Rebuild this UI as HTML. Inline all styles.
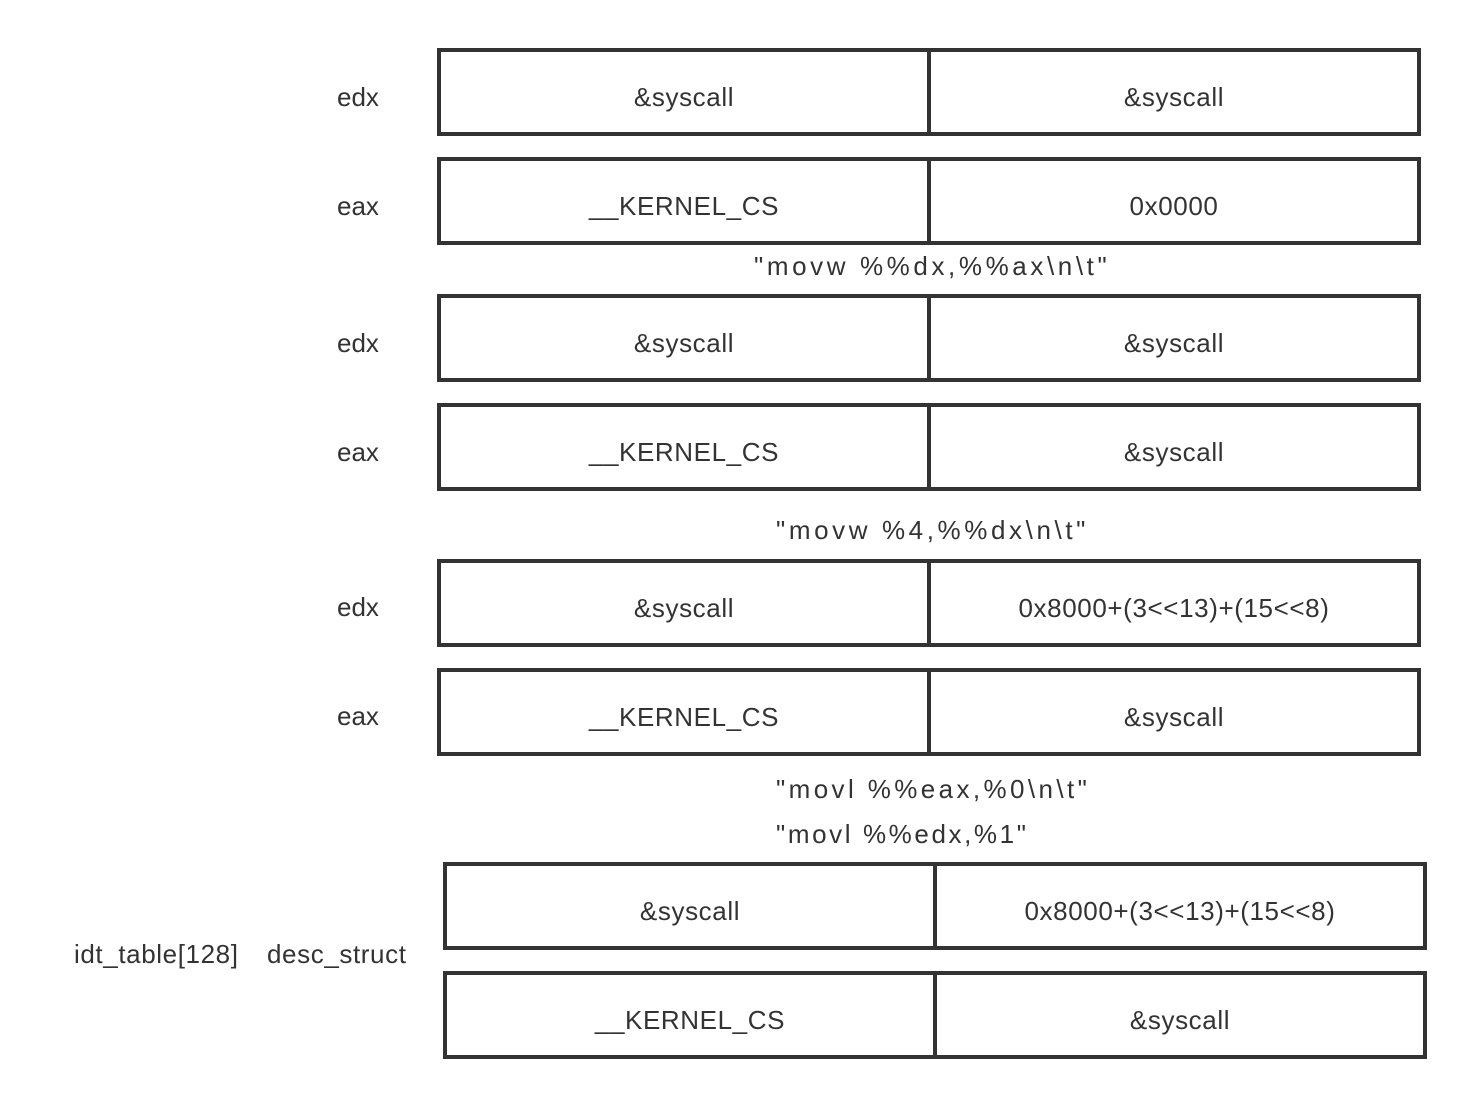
<!DOCTYPE html>
<html><head><style>
body{margin:0;width:1476px;height:1107px;background:#fff;position:relative;font-family:"Liberation Sans",sans-serif;color:#333;font-size:26px}
.b{position:absolute;width:976px;height:80px;border:4px solid #333;display:flex}
.b div{flex:1;display:flex;align-items:center;justify-content:center;padding-top:10px;letter-spacing:0.6px}
.b div:first-child{border-right:4px solid #333}
.l{position:absolute;line-height:30px;white-space:pre}
</style></head><body>
<div class="l" style="left:337px;top:82px">edx</div>
<div class="b" style="left:437px;top:48px"><div>&amp;syscall</div><div>&amp;syscall</div></div>
<div class="l" style="left:337px;top:191px">eax</div>
<div class="b" style="left:437px;top:157px"><div>__KERNEL_CS</div><div>0x0000</div></div>
<div class="l" style="left:754px;top:251px;letter-spacing:3.6px">"movw %%dx,%%ax\n\t"</div>
<div class="l" style="left:337px;top:328px">edx</div>
<div class="b" style="left:437px;top:294px"><div>&amp;syscall</div><div>&amp;syscall</div></div>
<div class="l" style="left:337px;top:437px">eax</div>
<div class="b" style="left:437px;top:403px"><div>__KERNEL_CS</div><div>&amp;syscall</div></div>
<div class="l" style="left:776px;top:515px;letter-spacing:3.6px">"movw %4,%%dx\n\t"</div>
<div class="l" style="left:337px;top:592px">edx</div>
<div class="b" style="left:437px;top:559px"><div>&amp;syscall</div><div>0x8000+(3&lt;&lt;13)+(15&lt;&lt;8)</div></div>
<div class="l" style="left:337px;top:701px">eax</div>
<div class="b" style="left:437px;top:668px"><div>__KERNEL_CS</div><div>&amp;syscall</div></div>
<div class="l" style="left:776px;top:774px;letter-spacing:3.4px">"movl %%eax,%0\n\t"</div>
<div class="l" style="left:776px;top:819px;letter-spacing:2.6px">"movl %%edx,%1"</div>
<div class="b" style="left:443px;top:862px"><div>&amp;syscall</div><div>0x8000+(3&lt;&lt;13)+(15&lt;&lt;8)</div></div>
<div class="l" style="left:74px;top:939px;letter-spacing:0.6px">idt_table[128]</div>
<div class="l" style="left:267px;top:939px;letter-spacing:0.6px">desc_struct</div>
<div class="b" style="left:443px;top:971px"><div>__KERNEL_CS</div><div>&amp;syscall</div></div>
</body></html>
